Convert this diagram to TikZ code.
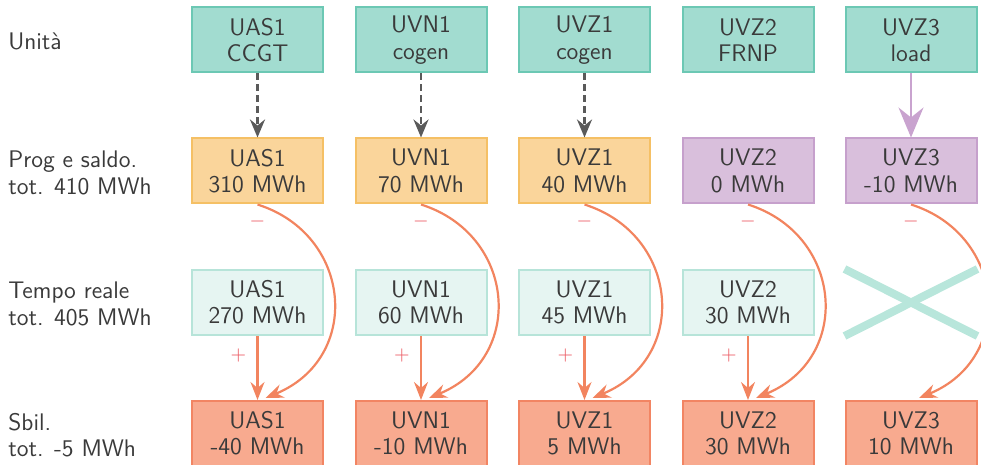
\documentclass[tikz,border=0pt]{standalone}
\usepackage{fontspec}
\usetikzlibrary{arrows.meta}
\definecolor{txt}{HTML}{3A3A3A}
\definecolor{tealF}{HTML}{A2DCD0}
\definecolor{tealD}{HTML}{6CC8B4}
\definecolor{orF}{HTML}{FAD59B}
\definecolor{orD}{HTML}{F5C065}
\definecolor{puF}{HTML}{D9BFDC}
\definecolor{puD}{HTML}{C6A0CC}
\definecolor{ltF}{HTML}{E6F5F2}
\definecolor{ltD}{HTML}{B7E4D9}
\definecolor{saF}{HTML}{F8AA8F}
\definecolor{saD}{HTML}{F28563}
\definecolor{arr}{HTML}{F2845F}
\definecolor{sgn}{HTML}{EB5A62}
\definecolor{grayA}{HTML}{5A5A5A}
\definecolor{puA}{HTML}{C9A3CF}
\definecolor{crossC}{HTML}{B8E6DB}
\begin{document}
\begin{tikzpicture}[x=0.5pt,y=-0.5pt,
  font=\sffamily\fontsize{12}{13.15}\selectfont, text=txt,
  box/.style={draw, line width=1pt, minimum width=65.5pt, minimum height=32.5pt, inner sep=0pt, align=center},
  unit/.style={box, draw=tealD, fill=tealF},
  prog/.style={box, draw=orD, fill=orF},
  progp/.style={box, draw=puD, fill=puF},
  real/.style={box, draw=ltD, fill=ltF},
  sbil/.style={box, draw=saD, fill=saF},
  rowlabel/.style={anchor=west, align=left, inner sep=0pt},
  dasharrow/.style={draw=grayA, line width=1.4pt, dash pattern=on 3.5pt off 2pt, -{Stealth[length=9pt,width=7.5pt,inset=3pt]}},
  purarrow/.style={draw=puA, line width=0.6pt, -{Stealth[length=15pt,width=12.5pt,inset=5pt]}},
  sbarrow/.style={draw=arr, line width=1.1pt, -{Stealth[length=9pt,width=7pt,inset=3pt]}},
  sign/.style={text=sgn, font=\sffamily\fontsize{10}{12}\selectfont, inner sep=0pt},
  crossline/.style={draw=crossC, line width=4pt}
]
\useasboundingbox (0,0) rectangle (981,465);
\clip (0,0) rectangle (981,465);

% row labels
\node[rowlabel] (l1) at (8,41) {Unità};
\node[rowlabel] (l2) at (8,173) {Prog e saldo.\\tot. 410 MWh};
\node[rowlabel] (l3) at (8,304) {Tempo reale\\tot. 405 MWh};
\node[rowlabel] (l4) at (8,435) {Sbil.\\tot. -5 MWh};

% row 1
\node[unit] (u1) at (257.5,40) {UAS1\\CCGT};
\node[unit] (u2) at (421,40) {UVN1\\cogen};
\node[unit] (u3) at (584.5,40) {UVZ1\\cogen};
\node[unit] (u4) at (748,40) {UVZ2\\FRNP};
\node[unit] (u5) at (911,40) {UVZ3\\load};

% row 2
\node[prog] (p1) at (257.5,171) {UAS1\\310 MWh};
\node[prog] (p2) at (421,171) {UVN1\\70 MWh};
\node[prog] (p3) at (584.5,171) {UVZ1\\40 MWh};
\node[progp] (p4) at (748,171) {UVZ2\\0 MWh};
\node[progp] (p5) at (911,171) {UVZ3\\-10 MWh};

% row 3
\node[real] (t1) at (257.5,302.5) {UAS1\\270 MWh};
\node[real] (t2) at (421,302.5) {UVN1\\60 MWh};
\node[real] (t3) at (584.5,302.5) {UVZ1\\45 MWh};
\node[real] (t4) at (748,302.5) {UVZ2\\30 MWh};
\node[box, draw=none] (t5) at (911,302.5) {};
\draw[crossline] (t5.north west) -- (t5.south east);
\draw[crossline] (t5.south west) -- (t5.north east);

% row 4
\node[sbil] (s1) at (257.5,433.5) {UAS1\\-40 MWh};
\node[sbil] (s2) at (421,433.5) {UVN1\\-10 MWh};
\node[sbil] (s3) at (584.5,433.5) {UVZ1\\5 MWh};
\node[sbil] (s4) at (748,433.5) {UVZ2\\30 MWh};
\node[sbil] (s5) at (911,433.5) {UVZ3\\10 MWh};

% row1 -> row2
\draw[dasharrow] (u1) -- (p1);
\draw[dasharrow] (u2) -- (p2);
\draw[dasharrow] (u3) -- (p3);
\draw[purarrow] (u5) -- (p5);

% row3 -> row4
\draw[sbarrow] (t1) -- (s1);
\draw[sbarrow] (t2) -- (s2);
\draw[sbarrow] (t3) -- (s3);
\draw[sbarrow] (t4) -- (s4);

% row2 -> row4 curves
\foreach \i in {1,...,5}{
  \draw[sbarrow] (p\i.south) .. controls +(95,30) and +(97,-40) .. ([xshift=4pt,yshift=1pt]s\i.north);
  \path (p\i.south) ++(0,17) node[sign] (m\i) {$-$};
}
\foreach \i in {1,...,4}{
  \path (t\i.south) ++(-19,19) node[sign] (q\i) {$+$};
}
\end{tikzpicture}
\end{document}
